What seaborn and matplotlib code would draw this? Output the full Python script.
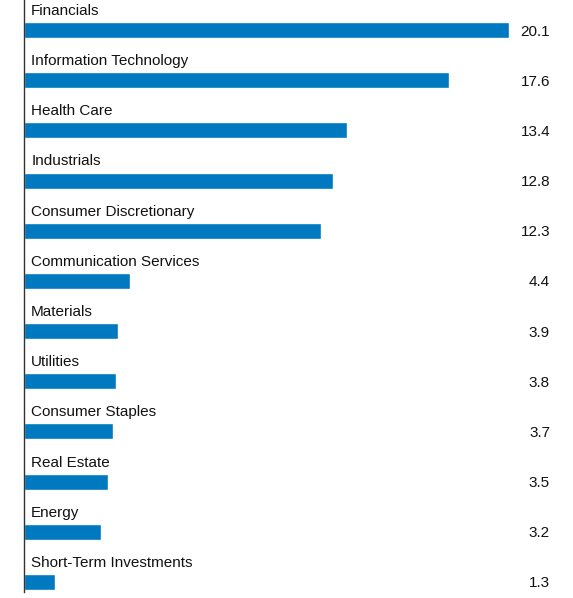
import matplotlib
matplotlib.use("Agg")
import matplotlib.pyplot as plt
import seaborn as sns
import pandas as pd

sectors = ["Financials", "Information Technology", "Health Care", "Industrials",
           "Consumer Discretionary", "Communication Services", "Materials", "Utilities",
           "Consumer Staples", "Real Estate", "Energy", "Short-Term Investments"]
values = [20.1, 17.6, 13.4, 12.8, 12.3, 4.4, 3.9, 3.8, 3.7, 3.5, 3.2, 1.3]

sns.set_style("white")
plt.rcParams['font.family'] = ['Liberation Sans', 'DejaVu Sans']

df = pd.DataFrame({"sector": sectors, "value": values})
fig = plt.figure(figsize=(5.73, 5.98), dpi=100)
ax = fig.add_axes([24/573, 6/598, 549/573, 592/598])
sns.barplot(data=df, x="value", y="sector", orient="h", color="#0079C1",
            saturation=1, width=0.32, ax=ax)
ax.set_xlim(0, 549/24.13)
ax.set_ylim(11.2, -0.598)
for i, (s, v) in enumerate(zip(sectors, values)):
    ax.text(0.3, i - 0.38, s, fontsize=11, va="center", ha="left", color="#111111")
    ax.text(21.8, i + 0.03, f"{v:.1f}", fontsize=11, va="center", ha="right", color="#111111")
ax.set_xticks([]); ax.set_yticks([])
ax.set_xlabel(""); ax.set_ylabel("")
for sp in ["top", "right", "bottom"]:
    ax.spines[sp].set_visible(False)
ax.spines["left"].set_color("#333333")
ax.spines["left"].set_linewidth(1)
fig.savefig("out.png", dpi=100)
